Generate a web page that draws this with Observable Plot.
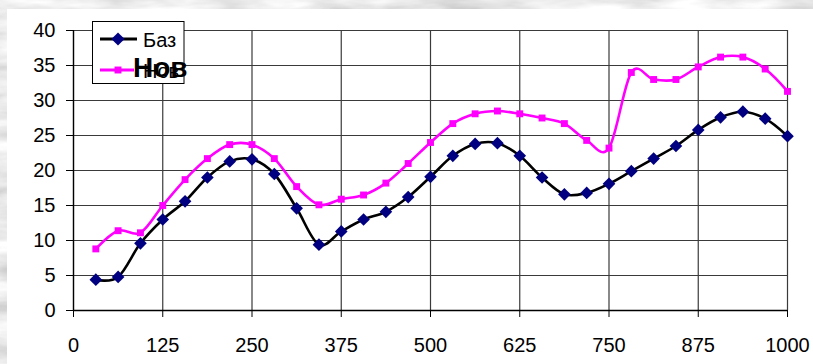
<!DOCTYPE html>
<html><head><meta charset="utf-8">
<script src="https://cdn.jsdelivr.net/npm/d3@7"></script>
<script src="https://cdn.jsdelivr.net/npm/@observablehq/plot@0.6"></script>
<style>
html,body{margin:0;padding:0;background:#ccc;}
body{width:813px;height:364px;position:relative;overflow:hidden;font-family:"Liberation Sans",Arial,sans-serif;}
#bg{position:absolute;left:0;top:0;}
#paper{position:absolute;left:7px;top:9px;width:806px;height:355px;background:#fff;}
#chart{position:absolute;left:0;top:0;}
#legend{position:absolute;left:0;top:0;}
</style></head><body>
<svg id="bg" width="813" height="364">
  <filter id="marble" x="0" y="0" width="100%" height="100%">
    <feTurbulence type="fractalNoise" baseFrequency="0.012 0.05" numOctaves="4" seed="7"/>
    <feColorMatrix type="matrix" values="0.75 0 0 0 0.45  0.75 0 0 0 0.45  0.75 0 0 0 0.45  0 0 0 0 1"/>
  </filter>
  <rect width="813" height="364" filter="url(#marble)"/>
</svg>
<div id="paper"></div>
<div id="chart"></div>
<svg id="legend" width="813" height="364"></svg>
<script>
// ---- data ----
const xValues = [31.25,62.5,93.75,125,156.25,187.5,218.75,250,281.25,312.5,343.75,375,406.25,437.5,468.75,500,531.25,562.5,593.75,625,656.25,687.5,718.75,750,781.25,812.5,843.75,875,906.25,937.5,968.75,1000,1031.25];
const baz = [4.4,4.8,9.6,13.0,15.6,19.0,21.3,21.6,19.5,14.6,9.4,11.3,13.0,14.1,16.2,19.1,22.1,23.8,23.9,22.1,19.0,16.6,16.8,18.1,19.9,21.7,23.5,25.8,27.6,28.4,27.4,24.9,21.5];
const nov = [8.8,11.4,11.1,15.0,18.7,21.7,23.7,23.7,21.7,17.7,15.1,15.9,16.5,18.2,21.0,24.0,26.7,28.1,28.5,28.1,27.5,26.7,24.3,23.2,34.0,33.0,33.0,34.8,36.2,36.2,34.5,31.3,27.0];
const seriesNames = ["Баз","Нов"];
const xTicks = [0,125,250,375,500,625,750,875,1000];
const yTicks = [0,5,10,15,20,25,30,35,40];

const data = xValues.map((x,i)=>({x, baz: baz[i], nov: nov[i]}));
const shown = data.filter(d => d.x <= 1000);

const chart = Plot.plot({
  width: 813, height: 364,
  marginLeft: 73, marginRight: 26, marginTop: 30, marginBottom: 54,
  style: {background: "transparent", fontFamily: "'Liberation Sans', Arial, sans-serif", fontSize: "20px", color: "#000"},
  x: {domain: [0, 1000], label: null},
  y: {domain: [0, 40], label: null},
  marks: [
    Plot.gridX(xTicks, {stroke: "#3a3a3a", strokeOpacity: 1, strokeWidth: 1.2}),
    Plot.gridY(yTicks, {stroke: "#3a3a3a", strokeOpacity: 1, strokeWidth: 1.2}),
    Plot.ruleY([0], {stroke: "#000", strokeWidth: 1.3}),
    Plot.ruleX([0], {stroke: "#000", strokeWidth: 1.3}),
    Plot.axisX(xTicks, {tickSize: 7, tickPadding: 20, stroke: "#000", fontSize: 20, tickFormat: d => String(d)}),
    Plot.axisY(yTicks, {tickSize: 7, tickPadding: 11, stroke: "#000", fontSize: 20, tickFormat: d => String(d)}),
    Plot.line(data, {x: "x", y: "nov", curve: "cardinal", stroke: "#ff00ff", strokeWidth: 2.6, clip: true}),
    Plot.dot(shown, {x: "x", y: "nov", symbol: "square", r: 3.9, fill: "#ff00ff", stroke: "none"}),
    Plot.line(data, {x: "x", y: "baz", curve: "cardinal", stroke: "#000", strokeWidth: 2.6, clip: true}),
    Plot.dot(shown, {x: "x", y: "baz", symbol: "diamond2", r: 5.7, fill: "#000080", stroke: "none"})
  ]
});
document.getElementById("chart").appendChild(chart);

// ---- legend ----
const lg = d3.select("#legend");
lg.append("rect").attr("x", 92.5).attr("y", 21.5).attr("width", 91.5).attr("height", 62)
  .attr("fill", "#fff").attr("stroke", "#000").attr("stroke-width", 1);
const rows = [
  {name: seriesNames[0], stroke: "#000", fill: "#000080", sym: d3.symbolDiamond2, size: 110, y: 39, x2: 137},
  {name: seriesNames[1], stroke: "#ff00ff", fill: "#ff00ff", sym: d3.symbolSquare, size: 48, y: 70, x2: 134}
];
rows.forEach(r => {
  lg.append("line").attr("x1", 100).attr("x2", r.x2).attr("y1", r.y).attr("y2", r.y)
    .attr("stroke", r.stroke).attr("stroke-width", 3);
  lg.append("path").attr("d", d3.symbol(r.sym, r.size)()).attr("transform", `translate(118,${r.y})`).attr("fill", r.fill);
  lg.append("text").attr("x", 143).attr("y", r.y + 8).attr("font-size", 20)
    .attr("font-family", "'Liberation Sans', Arial, sans-serif").text(r.name);
});
lg.append("text").attr("x", 133).attr("y", 77).attr("font-size", 28).attr("font-weight", "bold")
  .attr("font-family", "'Liberation Sans', Arial, sans-serif").text(seriesNames[1]);
</script>
</body></html>
